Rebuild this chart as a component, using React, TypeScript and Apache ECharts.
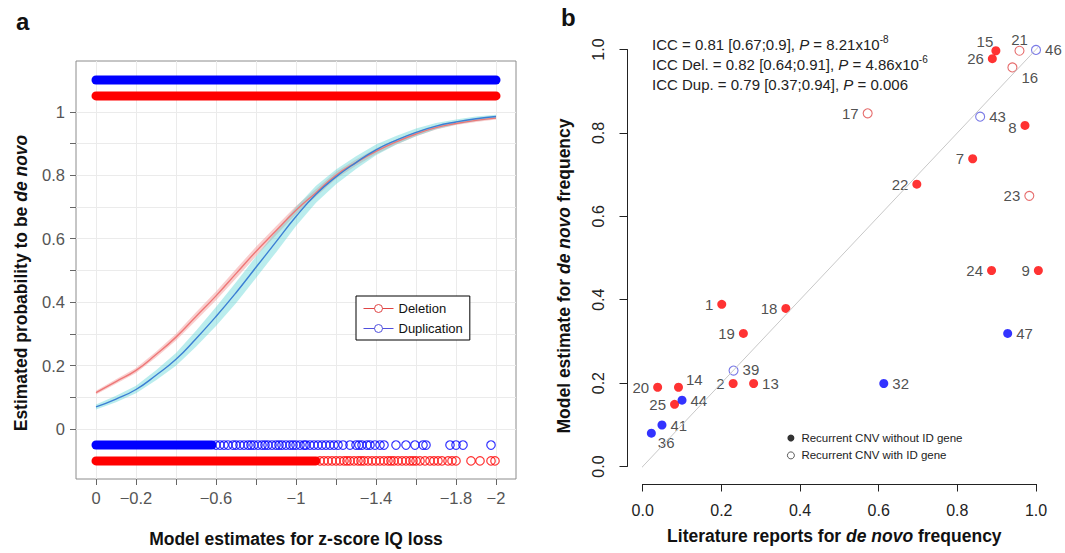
import React, { useEffect, useRef } from 'react';
import * as echarts from 'echarts';

// ---------- Panel a data ----------
const zGrid = [0, -0.1, -0.2, -0.3, -0.4, -0.5, -0.6, -0.7, -0.8, -0.9, -1.0, -1.1, -1.2, -1.3, -1.4, -1.5, -1.6, -1.7, -1.8, -1.9, -2.0];
const delProb = [0.115, 0.15, 0.185, 0.235, 0.29, 0.355, 0.42, 0.49, 0.56, 0.625, 0.69, 0.745, 0.8, 0.84, 0.875, 0.905, 0.93, 0.95, 0.963, 0.973, 0.98];
const dupProb = [0.07, 0.095, 0.125, 0.17, 0.22, 0.285, 0.355, 0.43, 0.51, 0.59, 0.67, 0.74, 0.795, 0.84, 0.88, 0.91, 0.935, 0.955, 0.968, 0.978, 0.985];
const delBandHalf = [0.006, 0.007, 0.008, 0.009, 0.011, 0.013, 0.014, 0.015, 0.015, 0.014, 0.013, 0.012, 0.011, 0.01, 0.009, 0.008, 0.007, 0.006, 0.005, 0.005, 0.004];
const dupBandHalf = [0.008, 0.01, 0.012, 0.016, 0.02, 0.025, 0.03, 0.033, 0.034, 0.033, 0.03, 0.027, 0.023, 0.02, 0.017, 0.014, 0.012, 0.01, 0.008, 0.007, 0.006];

// rug rows (y level) and their dense ranges [start, end]
const rugDupTopY = 1.1;
const rugDelTopY = 1.05;
const rugDupBottomY = -0.05;
const rugDelBottomY = -0.1;
const rugDupTopRange = [0, -2];
const rugDelTopRange = [0, -2];
const rugDupBottomRange = [0, -0.58];
const rugDelBottomRange = [0, -1.1];
const rugDupBottomCircles = [-0.6, -0.62, -0.64, -0.66, -0.685, -0.7, -0.72, -0.74, -0.76, -0.775, -0.79, -0.81, -0.83, -0.845, -0.86, -0.88, -0.9, -0.915, -0.93, -0.95, -0.97, -0.985, -1.0, -1.02, -1.04, -1.05, -1.07, -1.09, -1.11, -1.13, -1.15, -1.17, -1.19, -1.21, -1.235, -1.27, -1.3, -1.315, -1.33, -1.355, -1.37, -1.395, -1.42, -1.44, -1.5, -1.55, -1.595, -1.635, -1.65, -1.77, -1.8, -1.835, -1.975];
const rugDelBottomCircles = [-1.12, -1.14, -1.16, -1.18, -1.2, -1.22, -1.24, -1.255, -1.27, -1.29, -1.31, -1.325, -1.34, -1.36, -1.38, -1.4, -1.42, -1.44, -1.46, -1.475, -1.49, -1.51, -1.53, -1.55, -1.57, -1.585, -1.6, -1.62, -1.645, -1.67, -1.69, -1.71, -1.73, -1.76, -1.78, -1.8, -1.875, -1.92, -1.975, -1.995];

const aXTicks = [0, -0.2, -0.4, -0.6, -0.8, -1, -1.2, -1.4, -1.6, -1.8, -2];
const aXLabels = [0, -0.2, -0.6, -1, -1.4, -1.8, -2];
const aYTicks = [0, 0.1, 0.2, 0.3, 0.4, 0.5, 0.6, 0.7, 0.8, 0.9, 1];
const aYLabels = [0, 0.2, 0.4, 0.6, 0.8, 1];

// ---------- Panel b data ----------
const cnvIds = ['1', '18', '19', '2', '13', '20', '14', '25', '15', '26', '7', '22', '8', '24', '9', '21', '16', '17', '23', '44', '41', '36', '32', '47', '39', '43', '46'];
const litFreq = [0.201, 0.364, 0.256, 0.23, 0.282, 0.038, 0.091, 0.081, 0.898, 0.889, 0.839, 0.697, 0.972, 0.887, 1.006, 0.958, 0.94, 0.572, 0.983, 0.1, 0.049, 0.022, 0.613, 0.928, 0.231, 0.858, 1.0];
const modelEst = [0.389, 0.379, 0.319, 0.199, 0.199, 0.19, 0.19, 0.149, 0.997, 0.978, 0.738, 0.677, 0.818, 0.47, 0.47, 0.997, 0.957, 0.847, 0.649, 0.159, 0.0995, 0.08, 0.199, 0.319, 0.23, 0.839, 0.999];
const cnvType = ['del', 'del', 'del', 'del', 'del', 'del', 'del', 'del', 'del', 'del', 'del', 'del', 'del', 'del', 'del', 'del', 'del', 'del', 'del', 'dup', 'dup', 'dup', 'dup', 'dup', 'dup', 'dup', 'dup'];
const hasIdGene = [false, false, false, false, false, false, false, false, false, false, false, false, false, false, false, true, true, true, true, false, false, false, false, false, true, true, true];
const labelSide = ['left', 'left', 'left', 'left', 'right', 'left', 'right', 'left', 'top', 'left', 'left', 'left', 'left', 'left', 'left', 'top', 'right', 'left', 'left', 'right', 'right', 'right', 'right', 'right', 'right', 'right', 'right'];
const labelShift: Record<string, number[]> = { '14': [-1, -8], '15': [-11, 7], '21': [0, 5], '16': [0, 10], '36': [-2, 9], '8': [0, 2], '39': [0, -1] };

const FONT = '"Liberation Sans", Arial, Helvetica, sans-serif';
const RED = '#ff0000';
const BLUE = '#0000ff';
const TITLE_SIZE = 17.5;
const LEGEND_ICON = 'path://M0,5L11,5M19,5L30,5M11,5A4,4,0,1,1,19,5A4,4,0,1,1,11,5Z';

function bandSeries(prob: number[], half: number[], fill: string) {
  return {
    type: 'custom',
    xAxisIndex: 0,
    yAxisIndex: 0,
    silent: true,
    data: [[zGrid[0], prob[0]]],
    renderItem: (params: any, api: any) => {
      const pts: number[][] = [];
      for (let i = 0; i < zGrid.length; i++) pts.push(api.coord([zGrid[i], prob[i] + half[i]]));
      for (let i = zGrid.length - 1; i >= 0; i--) pts.push(api.coord([zGrid[i], prob[i] - half[i]]));
      return { type: 'polygon', shape: { points: pts }, style: { fill, stroke: 'none' } };
    },
  };
}

function rugLine(range: number[], y: number, color: string) {
  return {
    type: 'line',
    xAxisIndex: 0,
    yAxisIndex: 0,
    silent: true,
    symbol: 'none',
    data: range.map((x) => [x, y]),
    lineStyle: { color, width: 9, cap: 'round' },
    z: 5,
  };
}

function rugCircles(xs: number[], y: number, color: string) {
  return {
    type: 'scatter',
    xAxisIndex: 0,
    yAxisIndex: 0,
    silent: true,
    symbol: 'circle',
    symbolSize: 8.5,
    data: xs.map((x) => [x, y]),
    itemStyle: { color: 'rgba(0,0,0,0)', borderColor: color, borderWidth: 1.2 },
    z: 5,
  };
}

const titleRich = {
  b: { fontSize: TITLE_SIZE, fontWeight: 'bold', color: '#111', fontFamily: FONT },
  bi: { fontSize: TITLE_SIZE, fontWeight: 'bold', fontStyle: 'italic', color: '#111', fontFamily: FONT },
};

export default function App() {
  const ref = useRef<HTMLDivElement>(null);
  useEffect(() => {
    if (!ref.current) return;
    const chart = echarts.init(ref.current, undefined, { renderer: 'svg' });

    const bPoints = cnvIds.map((id, i) => {
      const color = cnvType[i] === 'del' ? RED : BLUE;
      const openColor = cnvType[i] === 'del' ? '#e04848' : '#5858e0';
      const shift = labelShift[id] || [0, 0];
      return {
        value: [litFreq[i], modelEst[i]],
        name: id,
        itemStyle: hasIdGene[i]
          ? { color: '#ffffff', borderColor: openColor, borderWidth: 1.1 }
          : { color, borderWidth: 0 },
        label: { show: true, position: labelSide[i], offset: shift, formatter: id },
      };
    });

    const option: any = {
      animation: false,
      backgroundColor: '#ffffff',
      textStyle: { fontFamily: FONT },
      grid: [
        { left: 76, top: 61, width: 440, height: 419, show: true, borderColor: '#8c8c8c', borderWidth: 1, backgroundColor: 'rgba(0,0,0,0)' },
        { left: 642.7, top: 49.5, width: 393.3, height: 417 },
      ],
      xAxis: [
        {
          gridIndex: 0, type: 'value', min: -2.1, max: 0.1, inverse: true,
          axisLine: { show: false, onZero: false },
          axisTick: { show: true, length: 6, lineStyle: { color: '#666' }, customValues: aXTicks },
          axisLabel: {
            customValues: aXLabels, fontSize: 16.5, color: '#555', margin: 10, fontFamily: FONT,
            formatter: (v: number) => (v === 0 ? '0' : '\u2212' + String(Math.abs(v))),
          },
          splitLine: { show: true, lineStyle: { color: '#ebebeb', width: 1 } },
          name: 'Model estimates for z-score IQ loss', nameLocation: 'middle', nameGap: 51,
          nameTextStyle: { fontSize: TITLE_SIZE, fontWeight: 'bold', color: '#111', fontFamily: FONT },
        },
        {
          gridIndex: 1, type: 'value', min: 0, max: 1, interval: 0.2, offset: 17.5,
          axisLine: { show: true, onZero: false, lineStyle: { color: '#222', width: 1 } },
          axisTick: { show: true, length: 7.5, lineStyle: { color: '#222' } },
          axisLabel: { fontSize: 16, color: '#222', margin: 18, fontFamily: FONT, formatter: (v: number) => v.toFixed(1) },
          splitLine: { show: false },
          name: '{b|Literature reports for }{bi|de novo}{b| frequency}', nameLocation: 'middle', nameGap: 43,
          nameTextStyle: { rich: titleRich, padding: [0, 10, 0, 0] },
        },
      ],
      yAxis: [
        {
          gridIndex: 0, type: 'value', min: -0.157, max: 1.16,
          axisLine: { show: false, onZero: false },
          axisTick: { show: true, length: 6, lineStyle: { color: '#666' }, customValues: aYTicks },
          axisLabel: { customValues: aYLabels, fontSize: 16.5, color: '#555', margin: 11, fontFamily: FONT },
          splitLine: { show: true, lineStyle: { color: '#ebebeb', width: 1 } },
          name: '{b|Estimated probability to be }{bi|de novo}', nameLocation: 'middle', nameGap: 46, nameRotate: 90,
          nameTextStyle: { rich: titleRich, padding: [0, 26, 0, 0] },
        },
        {
          gridIndex: 1, type: 'value', min: 0, max: 1, interval: 0.2, offset: 15.7,
          axisLine: { show: true, onZero: false, lineStyle: { color: '#222', width: 1 } },
          axisTick: { show: true, length: 7.5, lineStyle: { color: '#222' } },
          axisLabel: { fontSize: 16, color: '#222', margin: 21, rotate: 90, fontFamily: FONT, formatter: (v: number) => v.toFixed(1) },
          splitLine: { show: false },
          name: '{b|Model estimate for }{bi|de novo}{b| frequency}', nameLocation: 'middle', nameGap: 54, nameRotate: 90,
          nameTextStyle: { rich: titleRich, padding: [0, 36, 0, 0] },
        },
      ],
      legend: [
        {
          data: [
            { name: 'Deletion', icon: LEGEND_ICON, itemStyle: { color: 'rgba(0,0,0,0)', borderColor: '#e04545', borderWidth: 1 } },
            { name: 'Duplication', icon: LEGEND_ICON, itemStyle: { color: 'rgba(0,0,0,0)', borderColor: '#5050dd', borderWidth: 1 } },
          ],
          orient: 'vertical', left: 356, top: 296,
          itemWidth: 30, itemHeight: 10, itemGap: 5,
          padding: [5, 7, 4, 7],
          borderColor: '#000', borderWidth: 1, backgroundColor: '#ffffff',
          textStyle: { fontSize: 13, color: '#111', fontFamily: FONT, lineHeight: 15 },
          selectedMode: false,
        },
        {
          data: [
            { name: 'Recurrent CNV without ID gene', icon: 'circle', itemStyle: { color: '#000', borderWidth: 0 } },
            { name: 'Recurrent CNV with ID gene', icon: 'circle', itemStyle: { color: '#fff', borderColor: '#000', borderWidth: 0.8 } },
          ],
          orient: 'vertical', left: 787, top: 431,
          itemWidth: 7, itemHeight: 7, itemGap: 3.4, padding: 0,
          textStyle: { fontSize: 11.5, color: '#222', fontFamily: FONT, lineHeight: 14, padding: [0, 0, 0, 2] },
          selectedMode: false,
        },
      ],
      graphic: [
        { type: 'text', left: 16, top: 9, style: { text: 'a', font: 'bold 24px ' + FONT, fill: '#111' } },
        { type: 'text', left: 561, top: 5, style: { text: 'b', font: 'bold 24px ' + FONT, fill: '#111' } },
        ...[
          ['ICC = 0.81 [0.67;0.9], ', '8.21x10', '-8'],
          ['ICC Del. = 0.82 [0.64;0.91], ', '4.86x10', '-6'],
          ['ICC Dup. = 0.79 [0.37;0.94], ', '0.006', ''],
        ].map((parts, k) => ({
          type: 'text',
          x: 652,
          y: 44 + 20 * k,
          style: {
            text: '{t|' + parts[0] + '}{i|P}{t| = ' + parts[1] + '}' + (parts[2] ? '{s|' + parts[2] + '}' : ''),
            verticalAlign: 'middle',
            rich: {
              t: { fontSize: 15, fill: '#222', fontFamily: FONT, lineHeight: 19 },
              i: { fontSize: 15, fill: '#222', fontFamily: FONT, fontStyle: 'italic', lineHeight: 19 },
              s: { fontSize: 10, fill: '#222', fontFamily: FONT, lineHeight: 19, verticalAlign: 'top' },
            },
          },
        })),
      ],
      series: [
        bandSeries(delProb, delBandHalf, 'rgba(244,165,165,0.55)'),
        {
          name: 'Deletion', type: 'line', xAxisIndex: 0, yAxisIndex: 0, smooth: true,
          symbol: 'emptyCircle', symbolSize: 8, showSymbol: false,
          data: zGrid.map((z, i) => [z, delProb[i]]),
          lineStyle: { color: '#ee7777', width: 1.4 },
          itemStyle: { color: '#e04545' },
        },
        bandSeries(dupProb, dupBandHalf, 'rgba(90,212,212,0.42)'),
        {
          name: 'Duplication', type: 'line', xAxisIndex: 0, yAxisIndex: 0, smooth: true,
          symbol: 'emptyCircle', symbolSize: 8, showSymbol: false,
          data: zGrid.map((z, i) => [z, dupProb[i]]),
          lineStyle: { color: '#3b7fd4', width: 1.4 },
          itemStyle: { color: '#5050dd' },
        },
        rugLine(rugDupTopRange, rugDupTopY, BLUE),
        rugLine(rugDelTopRange, rugDelTopY, RED),
        rugLine(rugDupBottomRange, rugDupBottomY, BLUE),
        rugLine(rugDelBottomRange, rugDelBottomY, RED),
        rugCircles(rugDupBottomCircles, rugDupBottomY, BLUE),
        rugCircles(rugDelBottomCircles, rugDelBottomY, RED),
        // Panel b
        {
          type: 'line', xAxisIndex: 1, yAxisIndex: 1, silent: true, symbol: 'none', clip: false,
          data: [[-0.04, -0.04], [1.04, 1.04]],
          lineStyle: { color: '#c8c8c8', width: 1 },
        },
        {
          name: 'Recurrent CNV without ID gene', type: 'scatter', xAxisIndex: 1, yAxisIndex: 1, clip: false,
          symbol: 'circle', symbolSize: 9,
          data: bPoints.filter((_, i) => !hasIdGene[i]),
          itemStyle: { color: '#000' },
          label: { show: true, fontSize: 15, color: '#222', fontFamily: FONT, distance: 4 },
        },
        {
          name: 'Recurrent CNV with ID gene', type: 'scatter', xAxisIndex: 1, yAxisIndex: 1, clip: false,
          symbol: 'circle', symbolSize: 9,
          data: bPoints.filter((_, i) => hasIdGene[i]),
          itemStyle: { color: '#fff', borderColor: '#000' },
          label: { show: true, fontSize: 15, color: '#222', fontFamily: FONT, distance: 4 },
        },
      ],
    };
    chart.setOption(option);
    return () => chart.dispose();
  }, []);
  return <div ref={ref} style={{ position: 'fixed', left: 0, top: 0, width: 1065, height: 553, background: '#fff' }} />;
}
